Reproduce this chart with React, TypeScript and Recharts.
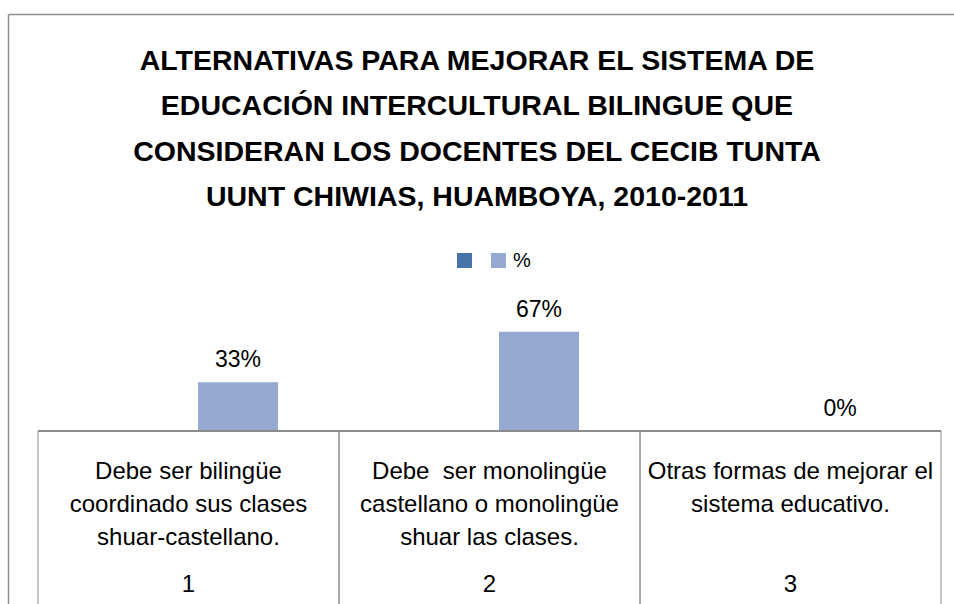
import { BarChart, Bar, XAxis, YAxis, Legend, LabelList } from "recharts";

const FONT = "'Liberation Sans', Arial, sans-serif";
const DARK = "#4674A9";
const LIGHT = "#95A9D1";
const LINE = "#8c8c8c";

const TITLE_LINES = [
  "ALTERNATIVAS PARA MEJORAR EL SISTEMA DE",
  "EDUCACIÓN INTERCULTURAL BILINGUE QUE",
  "CONSIDERAN LOS DOCENTES DEL CECIB TUNTA",
  "UUNT CHIWIAS, HUAMBOYA, 2010-2011",
];

const categories = ["1", "2", "3"];
const categoryText = [
  ["Debe ser bilingüe", "coordinado sus clases", "shuar-castellano."],
  ["Debe  ser monolingüe", "castellano o monolingüe", "shuar las clases."],
  ["Otras formas de mejorar el", "sistema educativo."],
];
const seriesNames = ["", "%"];
const blankValues: (number | null)[] = [null, null, null];
const percentValues = [33, 67, 0];

const data = categories.map((c, i) => ({
  cat: c,
  blank: blankValues[i],
  pct: percentValues[i],
}));

function TableTick(props: any) {
  const { x, y, payload, index } = props;
  const half = payload?.offset ?? 150.5;
  const lines = categoryText[index] ?? [];
  return (
    <g>
      <line x1={x - half} y1={y} x2={x - half} y2={y + 200} stroke={LINE} strokeWidth={1} />
      <line x1={x + half} y1={y} x2={x + half} y2={y + 200} stroke={LINE} strokeWidth={1} />
      {lines.map((t, i) => (
        <text
          key={i}
          x={x}
          y={y + 48 + i * 33}
          textAnchor="middle"
          fontSize={24}
          fontFamily={FONT}
          fill="#000"
          style={{ whiteSpace: "pre" }}
        >
          {t}
        </text>
      ))}
      <text x={x} y={y + 161} textAnchor="middle" fontSize={24} fontFamily={FONT} fill="#000">
        {payload.value}
      </text>
    </g>
  );
}

function LegendContent(props: any) {
  const { payload = [] } = props;
  return (
    <div style={{ display: "flex", alignItems: "center", fontFamily: FONT, fontSize: 20, lineHeight: "15px" }}>
      {payload.map((entry: any, i: number) => (
        <div key={i} style={{ display: "flex", alignItems: "center", marginRight: 12 }}>
          <span style={{ display: "inline-block", width: 15, height: 15, background: entry.color }} />
          <span style={{ marginLeft: 7, color: "#000" }}>{seriesNames[i]}</span>
        </div>
      ))}
    </div>
  );
}

export default function App() {
  return (
    <div style={{ position: "absolute", left: 0, top: 0, width: 954, height: 604, overflow: "hidden", background: "#fff" }}>
      <BarChart
        width={954}
        height={604}
        data={data}
        margin={{ top: 283, right: 13, bottom: 0, left: 38 }}
        barSize={80}
        barGap={19}
      >
        <XAxis
          dataKey="cat"
          height={173}
          axisLine={{ stroke: LINE, strokeWidth: 2 }}
          tickLine={false}
          tickSize={0}
          tickMargin={0}
          interval={0}
          tick={<TableTick />}
        />
        <YAxis hide domain={[0, 100]} />
        <Legend
          layout="horizontal"
          align="center"
          verticalAlign="middle"
          content={<LegendContent />}
          wrapperStyle={{ position: "absolute", top: 253, left: 457, width: "auto", height: 15 }}
        />
        <Bar dataKey="blank" name=" " fill={DARK} isAnimationActive={false} />
        <Bar dataKey="pct" name="%" fill={LIGHT} minPointSize={0.1} isAnimationActive={false}>
          <LabelList
            dataKey="pct"
            position="top"
            offset={15}
            fontSize={23}
            fontFamily={FONT}
            fill="#000"
            formatter={(v: any) => `${v}%`}
          />
        </Bar>
      </BarChart>
      <svg
        width={954}
        height={604}
        style={{ position: "absolute", left: 0, top: 0, pointerEvents: "none" }}
      >
        <line x1={8.5} y1={14.5} x2={954} y2={14.5} stroke={LINE} strokeWidth={1.5} />
        <line x1={8.5} y1={14.5} x2={8.5} y2={604} stroke={LINE} strokeWidth={1.5} />
        {TITLE_LINES.map((t, i) => (
          <text
            key={i}
            x={477}
            y={70 + i * 45.3}
            textAnchor="middle"
            fontSize={28.5}
            fontWeight="bold"
            fontFamily={FONT}
            fill="#000"
          >
            {t}
          </text>
        ))}
      </svg>
    </div>
  );
}
